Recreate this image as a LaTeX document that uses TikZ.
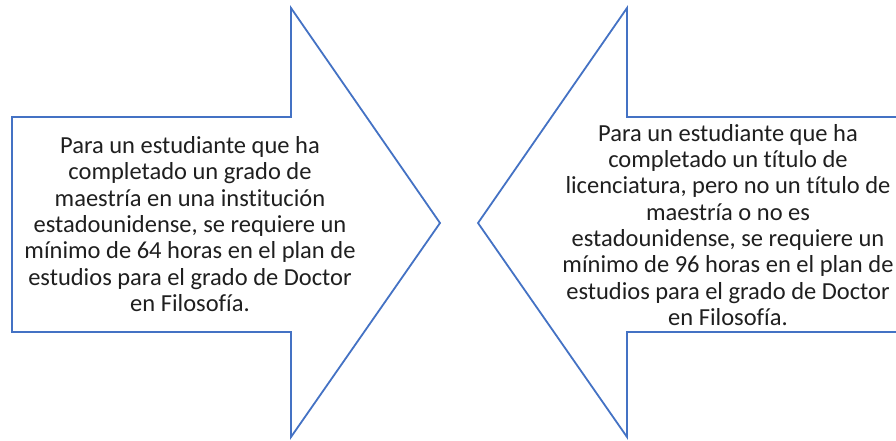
\documentclass[tikz,border=0pt]{standalone}
\usepackage{fontspec}
\setmainfont{Carlito}[Ligatures=NoCommon]
\usetikzlibrary{positioning}

\begin{document}
\begin{tikzpicture}[x=1pt,y=1pt]
                    \definecolor{officeblue}{HTML}{4472C4}
                    \tikzstyle{every node}=[inner sep=0,draw=none]
                    \tikzstyle{bigarrow}=[draw=officeblue,line width=1.8,line join=miter,fill=white]
                    \tikzstyle{note}=[align=center,font=\fontsize{24.5}{26.3}\selectfont,text=black!88]
                    {
                        \useasboundingbox (0,0) rectangle (896,-440);

                        % arrow pointing right
                        \draw[bigarrow] (12,-117) -- (291,-117) -- (291,-8) -- (440,-223)
                            -- (291,-437) -- (291,-332) -- (12,-332) -- cycle;

                        % arrow pointing left
                        \draw[bigarrow] (905,-117) -- (627,-117) -- (627,-8) -- (478,-223)
                            -- (627,-437) -- (627,-332) -- (905,-332);

                        \node[note] (textm) at (190,-224) {Para un estudiante que ha\\
                            completado un grado de\\
                            maestría en una institución\\
                            estadounidense, se requiere un\\
                            mínimo de 64 horas en el plan de\\
                            estudios para el grado de Doctor\\
                            en Filosofía.};

                        \node[note] (textl) at (728,-225) {Para un estudiante que ha\\
                            completado un título de\\
                            licenciatura, pero no un título de\\
                            maestría o no es\\
                            estadounidense, se requiere un\\
                            mínimo de 96 horas en el plan de\\
                            estudios para el grado de Doctor\\
                            en Filosofía.};
                    }
                \end{tikzpicture}
\end{document}
